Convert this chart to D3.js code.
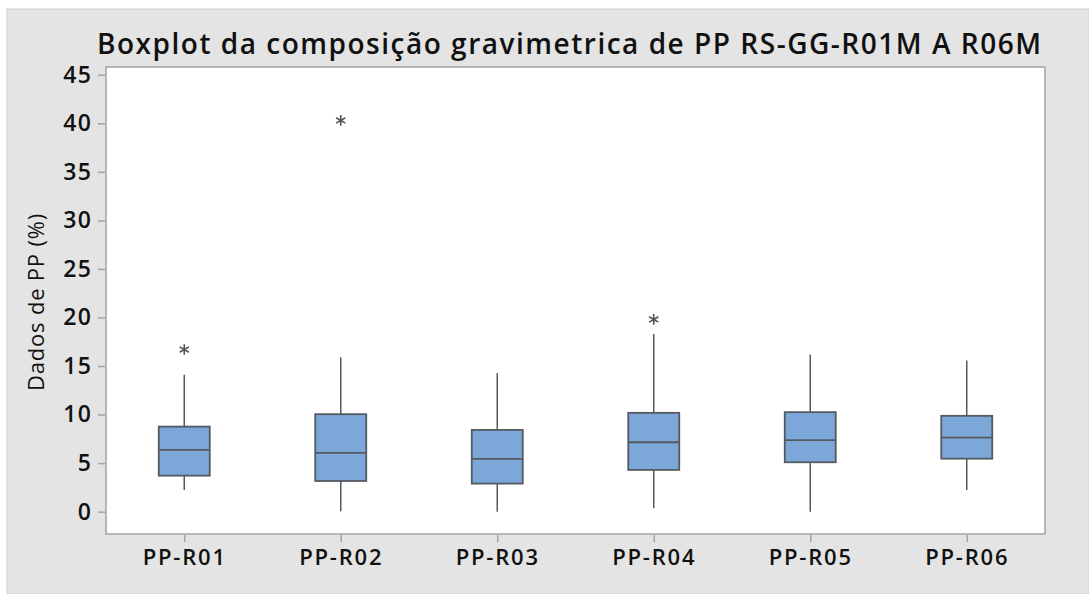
<!DOCTYPE html>
<html>
<head>
<meta charset="utf-8">
<script src="https://cdn.jsdelivr.net/npm/d3@7"></script>
<style>
  body { margin: 0; background: #fff; }
  text { font-family: "Open Sans", "Noto Sans", sans-serif; fill: #111; }
</style>
</head>
<body>
<svg id="chart" width="1089" height="594"></svg>
<script>
const categories = ['PP-R01', 'PP-R02', 'PP-R03', 'PP-R04', 'PP-R05', 'PP-R06'];
const whiskerLow = [2.24, 0.05, 0, 0.35, 0, 2.24];
const q1 = [3.71, 3.16, 2.89, 4.3, 5.09, 5.46];
const median = [6.36, 6.05, 5.43, 7.15, 7.36, 7.63];
const q3 = [8.76, 10.04, 8.42, 10.18, 10.25, 9.87];
const whiskerHigh = [14.1, 15.9, 14.27, 18.3, 16.2, 15.57];
const outliers = [[16.7], [40.3], [], [19.8], [], []];
const yTicks = [0, 5, 10, 15, 20, 25, 30, 35, 40, 45];

const svg = d3.select('#chart');
const W = 1089, H = 594;
const plot = { left: 106, top: 67, right: 1045, bottom: 534 };

// panel background
svg.append('rect').attr('x', 7).attr('y', 9).attr('width', W - 7).attr('height', H - 9)
    .attr('fill', '#e4e4e4').attr('stroke', '#d0d0d0').attr('stroke-width', 1);
svg.append('rect').attr('x', plot.left).attr('y', plot.top)
    .attr('width', plot.right - plot.left).attr('height', plot.bottom - plot.top)
    .attr('fill', '#fff').attr('stroke', '#a3a3a3').attr('stroke-width', 1.5);

const x = d3.scalePoint().domain(categories).range([plot.left, plot.right]).padding(0.5);
const y = d3.scaleLinear().domain([-2.3, 45.8]).range([plot.bottom, plot.top]);

const yAxis = svg.append('g')
    .attr('transform', `translate(${plot.left - 1},0)`)
    .call(d3.axisLeft(y).tickValues(yTicks).tickSize(7).tickPadding(6));
const xAxis = svg.append('g')
    .attr('transform', `translate(0,${plot.bottom + 1})`)
    .call(d3.axisBottom(x).tickSize(7).tickPadding(7));
[yAxis, xAxis].forEach(g => {
    g.select('.domain').remove();
    g.selectAll('line').attr('stroke', '#a3a3a3').attr('stroke-width', 1.5);
    g.selectAll('text').style('font-size', '22px').style('font-weight', 600).attr('fill', '#111')
        .style('font-family', '"Open Sans", "Noto Sans", sans-serif');
});
xAxis.selectAll('text').style('letter-spacing', '1.8px');
yAxis.selectAll('text').style('font-size', '23px').style('letter-spacing', '1.2px');

const data = categories.map((c, i) => ({
    c, lo: whiskerLow[i], q1: q1[i], med: median[i], q3: q3[i], hi: whiskerHigh[i], out: outliers[i]
}));
const boxW = 51;
const stroke = '#555a60';

const g = svg.append('g');
g.selectAll('.whisker-hi').data(data).join('line')
    .attr('x1', d => x(d.c)).attr('x2', d => x(d.c))
    .attr('y1', d => y(d.q3)).attr('y2', d => y(d.hi))
    .attr('stroke', stroke).attr('stroke-width', 1.5);
g.selectAll('.whisker-lo').data(data).join('line')
    .attr('x1', d => x(d.c)).attr('x2', d => x(d.c))
    .attr('y1', d => y(d.q1)).attr('y2', d => y(d.lo))
    .attr('stroke', stroke).attr('stroke-width', 1.5);
g.selectAll('.box').data(data).join('rect')
    .attr('x', d => x(d.c) - boxW / 2).attr('width', boxW)
    .attr('y', d => y(d.q3)).attr('height', d => y(d.q1) - y(d.q3))
    .attr('fill', '#7ba7d9').attr('stroke', stroke).attr('stroke-width', 1.8);
g.selectAll('.med').data(data).join('line')
    .attr('x1', d => x(d.c) - boxW / 2).attr('x2', d => x(d.c) + boxW / 2)
    .attr('y1', d => y(d.med)).attr('y2', d => y(d.med))
    .attr('stroke', stroke).attr('stroke-width', 1.8);

const outPts = data.flatMap(d => d.out.map(v => ({ c: d.c, v })));
g.selectAll('.out').data(outPts).join('path')
    .attr('transform', d => `translate(${x(d.c)},${y(d.v)})`)
    .attr('d', d3.symbol(d3.symbolAsterisk, 80))
    .attr('fill', 'none').attr('stroke', '#555').attr('stroke-width', 1.6);

svg.append('text')
    .attr('x', 569).attr('y', 54)
    .attr('text-anchor', 'middle')
    .attr('textLength', 944).attr('lengthAdjust', 'spacing')
    .style('font-size', '28px').style('font-weight', 600)
    .text('Boxplot da composição gravimetrica de PP RS-GG-R01M A R06M');

svg.append('text')
    .attr('transform', `translate(44,302) rotate(-90)`)
    .attr('text-anchor', 'middle')
    .style('font-size', '22px').style('font-weight', 500)
    .style('letter-spacing', '0.8px')
    .text('Dados de PP (%)');
</script>
</body>
</html>
